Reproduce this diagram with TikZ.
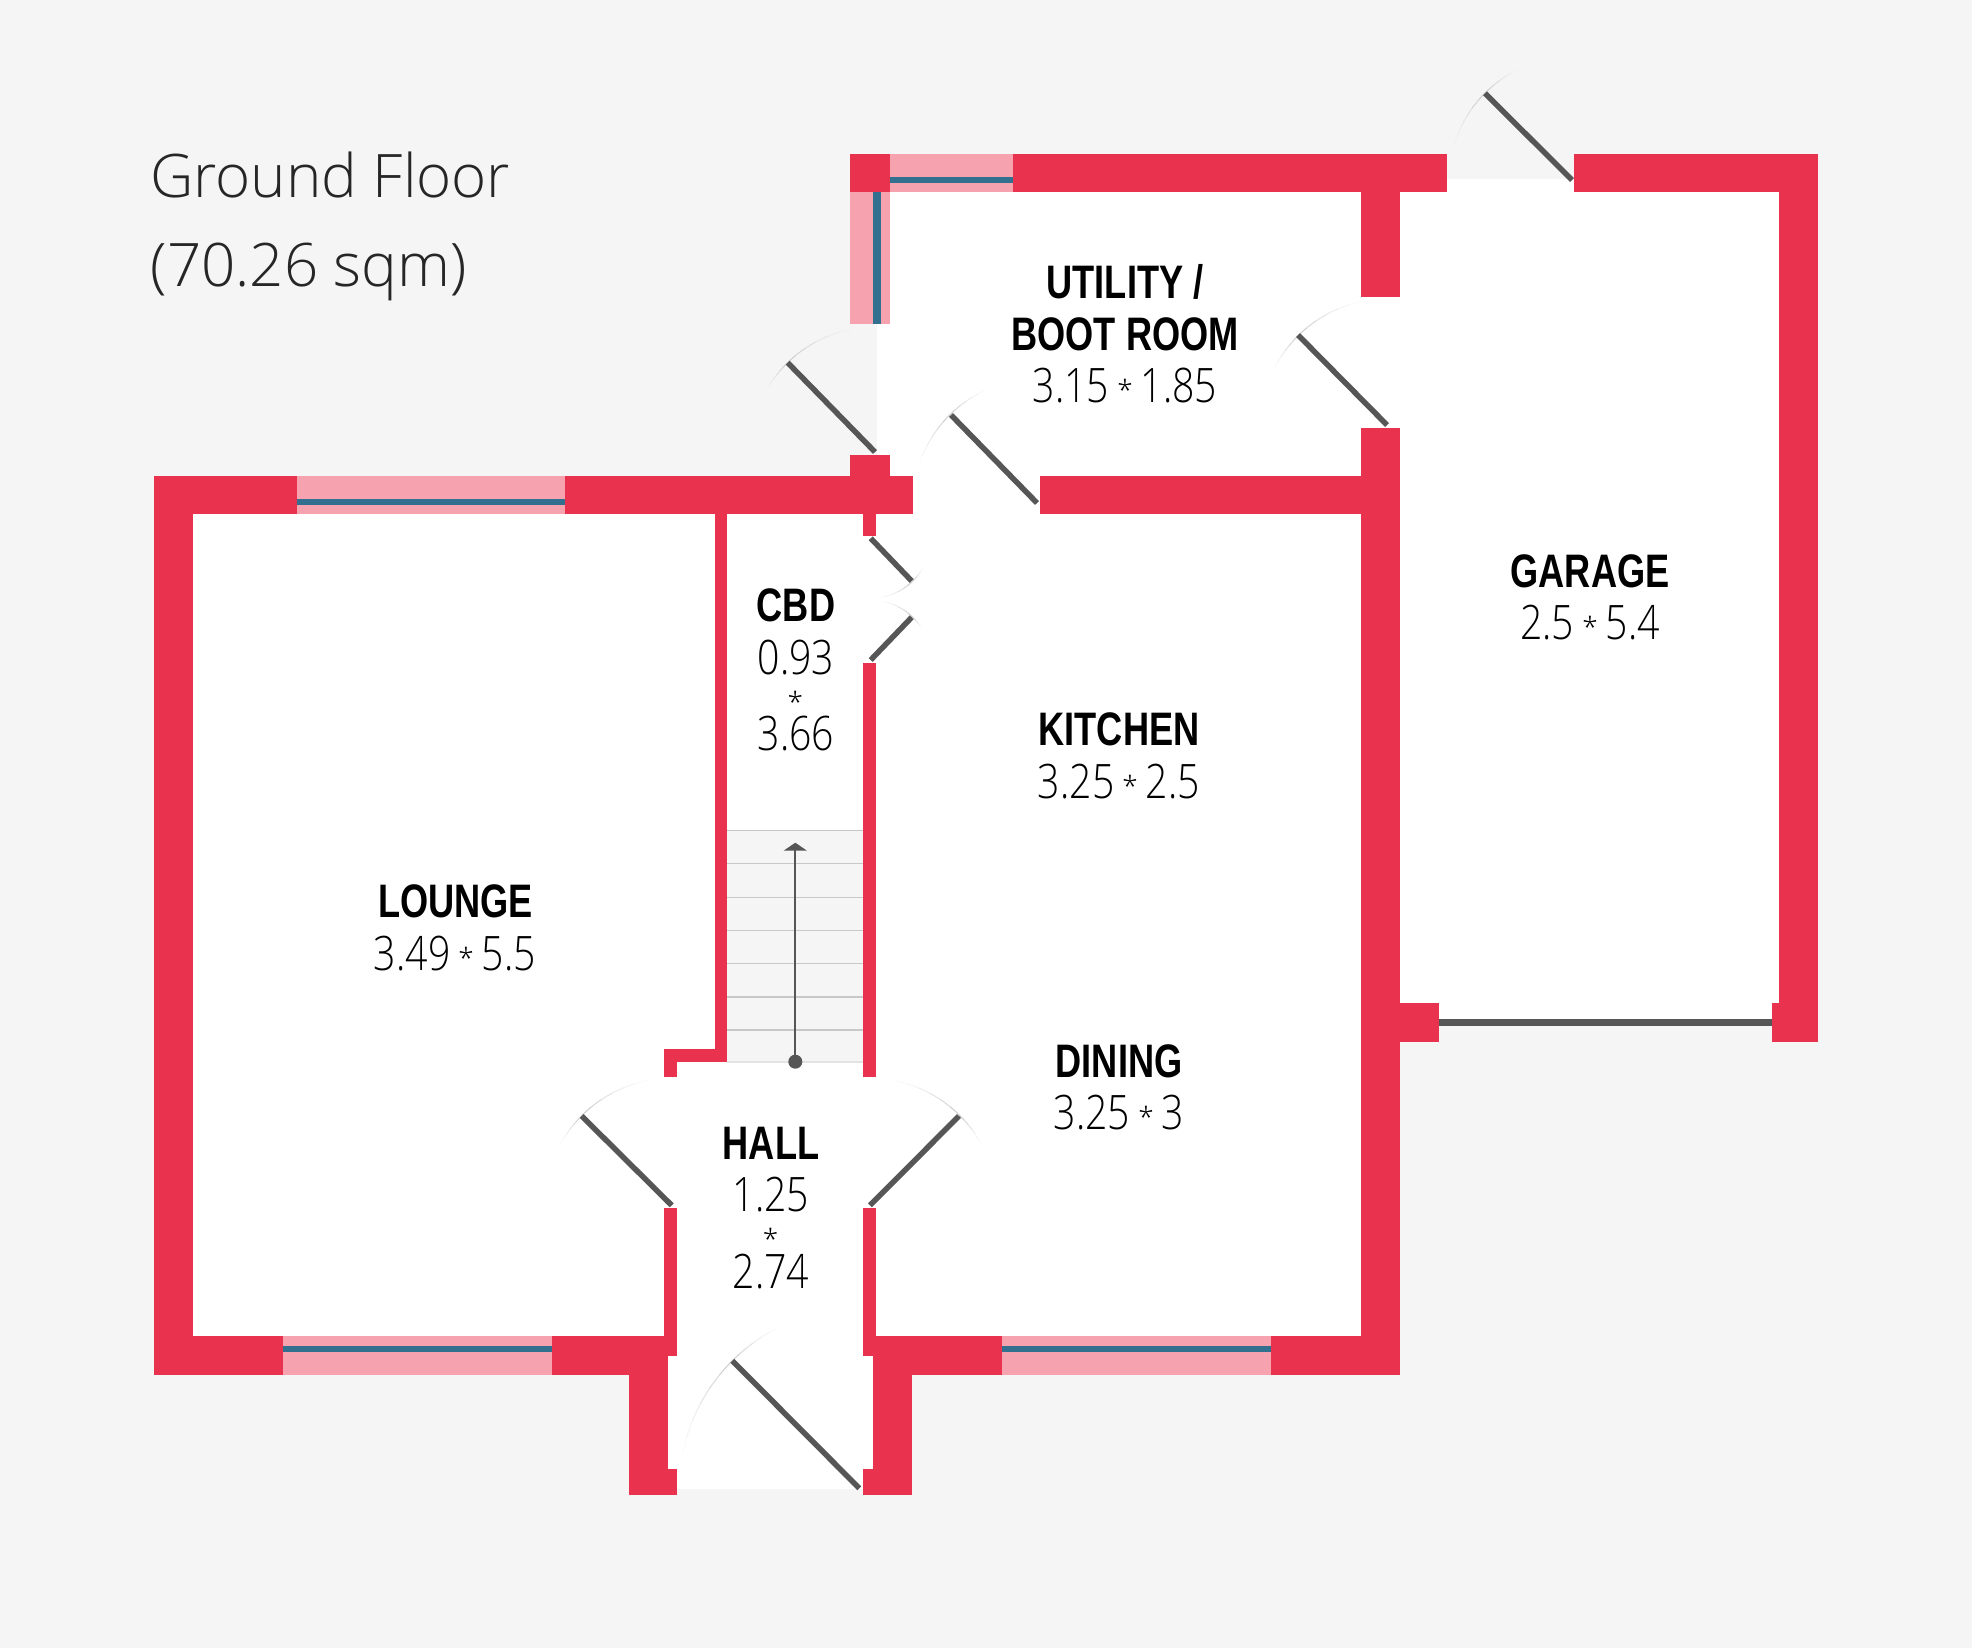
\documentclass[tikz,border=0pt]{standalone}
\usepackage{fontspec}
\newfontfamily\namef[FakeStretch=0.77]{Liberation Sans Bold}
\newfontfamily\numf[FakeStretch=0.825]{Open Sans Light}
\newfontfamily\headf{Open Sans Light}
\definecolor{bgc}{HTML}{F5F5F5}
\definecolor{wallc}{HTML}{E9334E}
\definecolor{winc}{HTML}{F7A3AF}
\definecolor{bluec}{HTML}{33708F}
\definecolor{doorc}{HTML}{565656}
\definecolor{stepc}{HTML}{C8C8C8}
\newcommand{\sizestar}{\hspace{0.17em}{\headf\fontsize{28}{28}\selectfont\raisebox{2pt}{*}}\hspace{0.17em}}
\tikzset{
  x=1pt,y=-1pt,
  wall/.style={fill=wallc,draw=none},
  winpane/.style={fill=winc,draw=none},
  winbar/.style={fill=bluec,draw=none},
  room/.style={fill=white,draw=none},
  leaf/.style={draw=doorc,line width=5.5pt},
  roomname/.style={font=\namef\fontsize{47}{50}\selectfont,text=black,inner sep=0pt,anchor=base},
  roomsize/.style={font=\numf\fontsize{47.5}{50}\selectfont,text=black,inner sep=0pt,anchor=base},
  starline/.style={font=\headf\fontsize{28}{28}\selectfont,text=black,inner sep=0pt,anchor=base},
  heading/.style={font=\headf\fontsize{60}{70}\selectfont,text=black!85,inner sep=0pt,anchor=base west},
}
% hinge x, hinge y, radius, door angle, span one way, span other way (y points down)
\newcommand{\swing}[6]{%
  \foreach \i/\op in {0/0.9,1/0.7,2/0.5,3/0.32,4/0.18,5/0.08}{%
    \pgfmathsetmacro{\aa}{#4+\i*#5/6}%
    \pgfmathsetmacro{\ab}{#4+(\i+1)*#5/6}%
    \draw[stepc,line width=1pt,opacity=\op] ({#1+#3*cos(\aa)},{#2+#3*sin(\aa)}) arc[start angle=\aa,end angle=\ab,radius=#3];
    \pgfmathsetmacro{\ba}{#4+\i*#6/6}%
    \pgfmathsetmacro{\bb}{#4+(\i+1)*#6/6}%
    \draw[stepc,line width=1pt,opacity=\op] ({#1+#3*cos(\ba)},{#2+#3*sin(\ba)}) arc[start angle=\ba,end angle=\bb,radius=#3];
  }%
}
\begin{document}
\begin{tikzpicture}
\useasboundingbox (0,0) rectangle (1972,1648);
\fill[bgc] (0,0) rectangle (1972,1648);
% interior
\fill[room] (192,514) rectangle (665,1337);
\fill[room] (660,514) rectangle (715,1050);
\fill[room] (664,1062) rectangle (864,1337);
\fill[room] (667.7,1330) rectangle (873.3,1489.3);
\fill[room] (727,514) rectangle (864,1100);
\fill[room] (863,514) rectangle (1361,1337);
\fill[room] (889.5,192) rectangle (1361,476);
\fill[room] (877,324) rectangle (1361,476);
\fill[room] (913,470) rectangle (1040,520);
\fill[room] (1361,296) rectangle (1400,429);
\fill[room] (1399.7,192) rectangle (1779,1022);
\fill[room] (1447,179.3) rectangle (1574.3,193);
% stairs
\fill[bgc] (727.3,830.7) rectangle (863.3,1062);
\foreach \y in {830.7,863.3,897.3,930.3,963.3,997,1030}
  \draw[stepc,line width=1.3pt] (727.3,\y) -- (863.3,\y);
\draw[stepc!50,line width=1.3pt] (727.3,1062) -- (863.3,1062);
% windows
\fill[winpane] (889.5,153.7) rectangle (1013,192.3);
\fill[winbar] (889.5,177) rectangle (1013,183.3);
\fill[winpane] (850,192.3) rectangle (889.5,324);
\fill[winbar] (873.4,192.3) rectangle (880.5,324);
\fill[winpane] (296.7,475.5) rectangle (565,514.3);
\fill[winbar] (296.7,499) rectangle (565,505.3);
\fill[winpane] (283.3,1336.3) rectangle (552,1375.2);
\fill[winbar] (283.3,1345.7) rectangle (552,1352);
\fill[winpane] (1002.3,1336.3) rectangle (1271,1375.2);
\fill[winbar] (1002.3,1345.7) rectangle (1271,1352);
% walls
\fill[wall] (850,153.7) rectangle (889.5,192.3);
\fill[wall] (1013,153.7) rectangle (1447.3,192.3);
\fill[wall] (1361,192) rectangle (1399.7,296.7);
\fill[wall] (1574.3,153.7) rectangle (1817.7,192.3);
\fill[wall] (1779,153.7) rectangle (1817.7,1041.7);
\fill[wall] (1361,428) rectangle (1399.7,1375.2);
\fill[wall] (1040,475.5) rectangle (1362,514.3);
\fill[wall] (1399,1002.7) rectangle (1438.7,1041.7);
\fill[wall] (1772.3,1002.7) rectangle (1817.7,1041.7);
\fill[doorc] (1438.7,1019.3) rectangle (1772.3,1025.7);
% main block
\fill[wall] (154,475.5) rectangle (296.7,514.3);
\fill[wall] (565,475.5) rectangle (913.3,514.3);
\fill[wall] (850,455.3) rectangle (889.5,476);
\fill[wall] (863.3,514) rectangle (876,535.7);
\fill[wall] (154,475.5) rectangle (193.3,1375.2);
\fill[wall] (154,1336.3) rectangle (283.3,1375.2);
\fill[wall] (552,1336.3) rectangle (677.3,1355.7);
\fill[wall] (552,1336.3) rectangle (667.7,1375.2);
\fill[wall] (628.7,1336.3) rectangle (667.7,1494.7);
\fill[wall] (628.7,1469) rectangle (677.3,1494.7);
\fill[wall] (863.3,1336.3) rectangle (1002.3,1355.7);
\fill[wall] (873.3,1336.3) rectangle (1002.3,1375.2);
\fill[wall] (873.3,1336.3) rectangle (912,1494.7);
\fill[wall] (863.3,1469) rectangle (912,1494.7);
\fill[wall] (1271,1336.3) rectangle (1399.7,1375.2);
\fill[wall] (714.7,514) rectangle (727.3,1062);
\fill[wall] (664.3,1049.3) rectangle (727.3,1062);
\fill[wall] (664.3,1049.3) rectangle (677.3,1077.3);
\fill[wall] (863.3,663) rectangle (876.3,1077.3);
\fill[wall] (664.3,1208.3) rectangle (677.3,1340);
\fill[wall] (863.3,1208.3) rectangle (876.3,1340);
% doors: swing arcs then leaves
\swing{1572}{180}{123}{-135}{18}{-28}
\draw[leaf] (1572,180) -- (1485,93.3);
\swing{875}{452}{125}{-135}{34}{-14}
\draw[leaf] (875,452) -- (787.7,362.7);
\swing{1037}{503}{124}{-135}{20}{-26}
\draw[leaf] (1037,503) -- (951,415);
\swing{1387}{425}{126}{-135}{33}{-18}
\draw[leaf] (1387,425) -- (1298,335);
\swing{870.7}{538.3}{60}{46}{-16}{34}
\draw[leaf] (870.7,538.3) -- (911.7,581);
\swing{870.7}{660}{60}{-46}{14}{-33}
\draw[leaf] (870.7,660) -- (911.7,617.3);
\swing{671.7}{1205.3}{127}{-135}{34}{-16}
\draw[leaf] (671.7,1205.3) -- (581.7,1116);
\swing{870}{1205.3}{127}{-45}{-34}{16}
\draw[leaf] (870,1205.3) -- (959,1116);
\swing{859.3}{1488.3}{180}{-135}{18}{-34}
\draw[leaf] (859.3,1488.3) -- (732.3,1360.7);
% stair arrow
\coordinate (stairfoot) at (795.3,1061.7);
\coordinate (stairhead) at (795.3,848);
\fill[doorc] (stairfoot) circle[radius=7];
\draw[doorc,line width=1.7pt] (stairfoot) -- (stairhead);
\fill[doorc] (795.3,842.7) -- (807,850.7) -- (783.6,850.7) -- cycle;
% labels
\node[heading] (titleA) at (150,197.3) {Ground Floor};
\node[heading] (titleB) at (150.5,286.7) {(70.26 sqm)};
\node[roomname] (utilA) at (1125,298.5) {UTILITY /};
\node[roomname] (utilB) at (1125,350.5) {BOOT ROOM};
\node[roomsize] (utilC) at (1125,402) {3.15\sizestar 1.85};
\node[roomname] (garA) at (1590,587) {GARAGE};
\node[roomsize] (garB) at (1590,639) {2.5\sizestar 5.4};
\node[roomname] (kitA) at (1119,745) {KITCHEN};
\node[roomsize] (kitB) at (1119,798) {3.25\sizestar 2.5};
\node[roomname] (dinA) at (1119,1077.5) {DINING};
\node[roomsize] (dinB) at (1119,1129.5) {3.25\sizestar 3};
\node[roomname] (louA) at (455.5,917.3) {LOUNGE};
\node[roomsize] (louB) at (455,970) {3.49\sizestar 5.5};
\node[roomname] (cbdA) at (796,621.7) {CBD};
\node[roomsize] (cbdB) at (796,674) {0.93};
\node[starline] (cbdC) at (795.3,712) {*};
\node[roomsize] (cbdD) at (796,750) {3.66};
\node[roomname] (halA) at (771,1159) {HALL};
\node[roomsize] (halB) at (771,1211.7) {1.25};
\node[starline] (halC) at (770.5,1249) {*};
\node[roomsize] (halD) at (771,1288) {2.74};
\end{tikzpicture}
\end{document}
